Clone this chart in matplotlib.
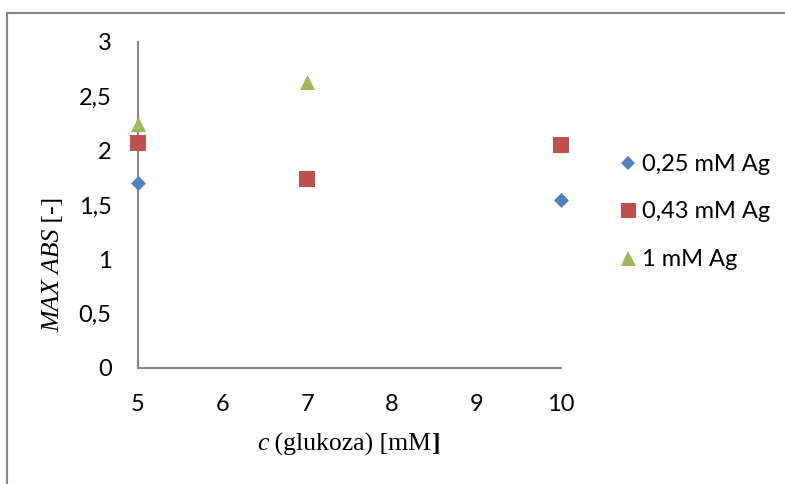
import matplotlib
matplotlib.use("Agg")
import matplotlib.pyplot as plt
from matplotlib.lines import Line2D

# values
x_025 = [5, 10]
y_025 = [1.70, 1.55]
x_043 = [5, 7, 10]
y_043 = [2.07, 1.74, 2.05]
x_1 = [5, 7]
y_1 = [2.245, 2.63]

series_labels = ["0,25 mM Ag", "0,43 mM Ag", "1 mM Ag"]
y_ticks = [0, 0.5, 1, 1.5, 2, 2.5, 3]
y_ticklabels = ["0", "0,5", "1", "1,5", "2", "2,5", "3"]
x_ticks = [5, 6, 7, 8, 9, 10]

BLUE = "#4F81BD"
RED = "#C0504D"
GREEN = "#9BBB59"
GREY = "#868686"

TICK_FONT = ["Lato", "DejaVu Sans"]
TICK_SIZE = 17
SERIF = "Liberation Serif"
TITLE_SIZE = 18.5

W, H = 785, 484

fig = plt.figure(figsize=(W / 100, H / 100), dpi=100)
ax = fig.add_axes([138 / W, 1 - 368 / H, 423 / W, 326 / H])

ax.scatter(x_025, y_025, marker="D", s=58, color=BLUE, linewidths=0, zorder=3, clip_on=False)
ax.scatter(x_043, y_043, marker="s", s=117, color=RED, linewidths=0, zorder=3, clip_on=False)
ax.scatter(x_1, y_1, marker="^", s=117, color=GREEN, linewidths=0, zorder=3, clip_on=False)

ax.set_xlim(5, 10)
ax.set_ylim(0, 3)
ax.set_xticks(x_ticks)
ax.set_xticklabels([str(v) for v in x_ticks])
ax.set_yticks(y_ticks)
ax.set_yticklabels(y_ticklabels)
ax.tick_params(axis="y", length=0, pad=19)
ax.tick_params(axis="x", length=0, pad=18.5)
for lab in ax.get_xticklabels() + ax.get_yticklabels():
    lab.set_family(TICK_FONT)
    lab.set_fontsize(TICK_SIZE)

for side in ("top", "right"):
    ax.spines[side].set_visible(False)
for side in ("left", "bottom"):
    ax.spines[side].set_color(GREY)
    ax.spines[side].set_linewidth(1.5)

# axis titles are mixed italic / roman / bold, so build them from pieces
fig.canvas.draw()
r = fig.canvas.get_renderer()

xl_y = 1 - 444 / H
t1 = fig.text(257 / W, xl_y, "c", fontsize=TITLE_SIZE, family=SERIF,
              style="italic", ha="left", va="center")
bb = t1.get_window_extent(r)
t2 = fig.text(bb.x1 / W, xl_y, " (glukoza) [mM", fontsize=TITLE_SIZE,
              family=SERIF, ha="left", va="center")
bb = t2.get_window_extent(r)
fig.text(bb.x1 / W, xl_y, "]", fontsize=TITLE_SIZE, family=SERIF,
         weight="bold", ha="left", va="center")

ya = fig.text(53 / W, 1 - 332 / H, "MAX ABS", fontsize=TITLE_SIZE, family=SERIF,
              style="italic", rotation=90, ha="center", va="bottom")
bb = ya.get_window_extent(r)
fig.text(53 / W, bb.y1 / H, " [-]", fontsize=TITLE_SIZE, family=SERIF,
         rotation=90, ha="center", va="bottom")

handles = [
    Line2D([], [], marker="D", ls="none", color=BLUE, markersize=7.6, mew=0),
    Line2D([], [], marker="s", ls="none", color=RED, markersize=10.8, mew=0),
    Line2D([], [], marker="^", ls="none", color=GREEN, markersize=10.8, mew=0),
]
fig.legend(handles, series_labels, loc="center left",
           bbox_to_anchor=(618.5 / W, 1 - 212 / H), frameon=False,
           prop={"family": TICK_FONT, "size": TICK_SIZE},
           handlelength=0.8, handletextpad=0.2, labelspacing=1.12,
           borderpad=0, borderaxespad=0)

# outer chart border (only top and left edges visible in the crop)
fig.add_artist(Line2D([7 / W, 7 / W], [0, 1 - 12.5 / H],
                      color=GREY, lw=1.5, transform=fig.transFigure))
fig.add_artist(Line2D([7 / W, 784 / W], [1 - 12.5 / H, 1 - 12.5 / H],
                      color=GREY, lw=1.5, transform=fig.transFigure))

fig.savefig("out.png", dpi=100)
